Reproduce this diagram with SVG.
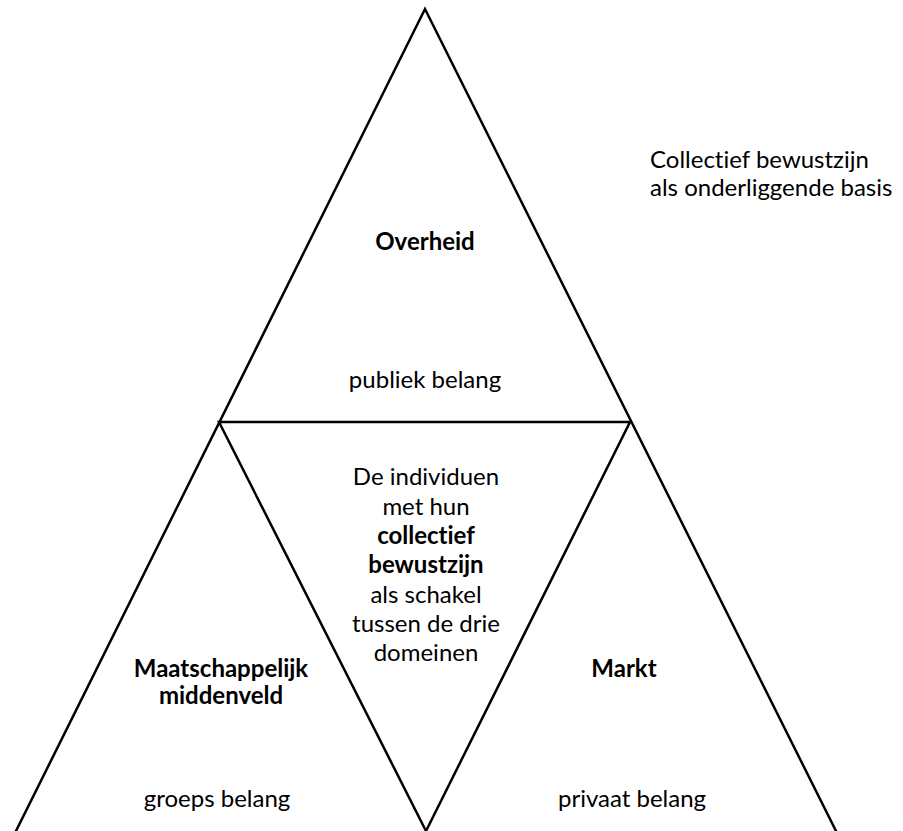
<svg xmlns="http://www.w3.org/2000/svg" width="903" height="831" viewBox="0 0 903 831">
<style>
.ln{fill:none;stroke:#000;stroke-width:2.5;stroke-linejoin:miter}
text{font-family:Lato,"Liberation Sans",Arial,sans-serif;font-size:24px;fill:#000;font-variant-ligatures:none}
.c{text-anchor:middle}
.b{font-weight:bold}
</style>
<rect width="903" height="831" fill="#fff"/>
<g id="connectors">
<path class="ln" d="M15,833 L425,9 L837,833"/>
<path class="ln" d="M219,422 L630,422 L426,831 Z"/>
</g>
<g id="overheid">
<text class="c b" x="425" y="250">Overheid</text>
<text class="c" x="425" y="388">publiek belang</text>
</g>
<g id="individuen">
<text class="c" x="426" y="485">De individuen</text>
<text class="c" x="426" y="515">met hun</text>
<text class="c b" x="426" y="544">collectief</text>
<text class="c b" x="426" y="573">bewustzijn</text>
<text class="c" x="426" y="603">als schakel</text>
<text class="c" x="426" y="632">tussen de drie</text>
<text class="c" x="426" y="661">domeinen</text>
</g>
<g id="middenveld">
<text class="c b" x="221" y="677">Maatschappelijk</text>
<text class="c b" x="221" y="704">middenveld</text>
<text class="c" x="217" y="807">groeps belang</text>
</g>
<g id="markt">
<text class="c b" x="624" y="677">Markt</text>
<text class="c" x="632" y="807">privaat belang</text>
</g>
<g id="basis">
<text x="650" y="168">Collectief bewustzijn</text>
<text x="650" y="196">als onderliggende basis</text>
</g>
</svg>
